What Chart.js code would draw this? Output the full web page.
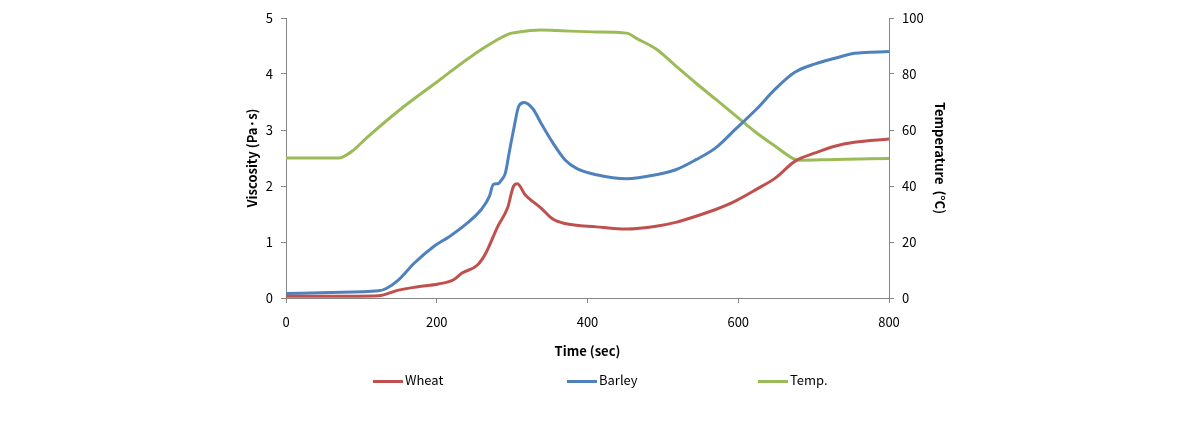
<!DOCTYPE html>
<html>
<head>
<meta charset="utf-8">
<script src="https://cdn.jsdelivr.net/npm/chart.js@4.4.1/dist/chart.umd.min.js"></script>
<style>
  html, body { margin: 0; padding: 0; background: #fff; }
  #wrap { width: 1190px; height: 446px; position: relative; }
  .leg { position: absolute; top: 371px; font: 13px 'Noto Sans CJK KR', 'Noto Sans', sans-serif; color: #000; line-height: 18px; white-space: nowrap; }
  .leg i { display: inline-block; width: 30px; height: 3px; vertical-align: middle; margin-right: 2px; }
</style>
</head>
<body>
<div id="wrap">
  <canvas id="chart" width="1190" height="446"></canvas>
  <div id="legend"></div>
</div>
<script>
// ── Data ───────────────────────────────────────
const xTicks = [0, 200, 400, 600, 800];

const wheatTime = [0, 60, 123, 149, 175, 202, 223, 233, 254, 265, 281, 294, 302, 307, 317, 338, 354, 370, 412, 452, 491, 517, 544, 570, 596, 624, 649, 675, 702, 728, 754, 800];
const wheatVisc = [0.03, 0.03, 0.04, 0.14, 0.20, 0.25, 0.33, 0.44, 0.59, 0.80, 1.28, 1.61, 2.00, 2.04, 1.85, 1.61, 1.41, 1.33, 1.27, 1.23, 1.28, 1.35, 1.46, 1.58, 1.73, 1.94, 2.14, 2.44, 2.59, 2.71, 2.78, 2.84];

const barleyTime = [0, 60, 123, 133, 149, 170, 196, 217, 238, 259, 270, 275, 281, 286, 291, 296, 302, 309, 316, 328, 338, 354, 370, 386, 412, 452, 491, 517, 544, 570, 596, 624, 649, 675, 702, 728, 754, 800];
const barleyVisc = [0.08, 0.10, 0.13, 0.17, 0.32, 0.62, 0.92, 1.10, 1.31, 1.58, 1.82, 2.03, 2.04, 2.11, 2.23, 2.59, 3.01, 3.43, 3.49, 3.37, 3.13, 2.77, 2.47, 2.31, 2.20, 2.13, 2.20, 2.29, 2.47, 2.68, 3.01, 3.37, 3.73, 4.03, 4.18, 4.28, 4.37, 4.40];

const tempTime = [0, 70, 75, 88, 107, 149, 202, 249, 296, 307, 338, 359, 412, 452, 465, 491, 517, 544, 570, 596, 624, 649, 675, 680, 728, 800];
const tempVal  = [50.0, 50.0, 50.3, 52.5, 57.2, 66.8, 77.5, 86.9, 94.3, 94.9, 95.7, 95.5, 95.0, 94.6, 92.7, 88.9, 82.9, 76.7, 71.0, 65.2, 59.0, 54.2, 49.5, 49.2, 49.5, 49.8];

const AXIS = '#868686';
const FONT = "'Noto Sans CJK KR', 'Noto Sans', sans-serif";

function pts(xs, ys) { return xs.map((x, i) => ({ x, y: ys[i] })); }

function lineSet(label, data, color, axis) {
  return {
    label, data, yAxisID: axis,
    borderColor: color, backgroundColor: color,
    borderWidth: 3, pointRadius: 0,
    cubicInterpolationMode: 'monotone', fill: false
  };
}

const chart = new Chart(document.getElementById('chart'), {
  type: 'line',
  data: {
    datasets: [
      lineSet('Wheat',  pts(wheatTime, wheatVisc),   '#C0504D', 'y'),
      lineSet('Barley', pts(barleyTime, barleyVisc), '#4F81BD', 'y'),
      lineSet('Temp.',  pts(tempTime, tempVal),      '#9BBB59', 'y1')
    ]
  },
  options: {
    responsive: false,
    animation: false,
    layout: { padding: { left: 232, right: 240, top: 18, bottom: 78 } },
    plugins: {
      legend: { display: false },
      tooltip: { enabled: false }
    },
    scales: {
      x: {
        type: 'linear', min: 0, max: 800,
        afterBuildTicks: s => { s.ticks = xTicks.map(v => ({ value: v })); },
        ticks: { color: '#000', font: { family: FONT, size: 13 }, padding: 11, maxRotation: 0 },
        grid: { drawOnChartArea: false, drawTicks: true, tickLength: 5, color: AXIS },
        border: { display: true, color: AXIS },
        title: { display: true, text: 'Time (sec)', color: '#000', font: { family: FONT, size: 13, weight: 'bold' }, padding: { top: 4, bottom: 9 } },
        afterFit: s => { s.height = 70; }
      },
      y: {
        position: 'left', min: 0, max: 5,
        ticks: { stepSize: 1, color: '#000', font: { family: FONT, size: 13 }, padding: 8 },
        grid: { drawOnChartArea: false, drawTicks: true, tickLength: 5, color: AXIS },
        border: { display: true, color: AXIS },
        title: { display: true, text: 'Viscosity (Pa·s)', color: '#000', font: { family: FONT, size: 13, weight: 'bold' }, padding: { top: 12, bottom: 4 } },
        afterFit: s => { s.width = 54; }
      },
      y1: {
        position: 'right', min: 0, max: 100,
        ticks: { stepSize: 20, color: '#000', font: { family: FONT, size: 13 }, padding: 8 },
        grid: { drawOnChartArea: false, drawTicks: true, tickLength: 5, color: AXIS },
        border: { display: true, color: AXIS },
        title: { display: true, text: 'Temperature  (°C)', color: '#000', font: { family: FONT, size: 13, weight: 'bold' }, padding: { top: 2, bottom: 4 } },
        afterFit: s => { s.width = 61; }
      }
    }
  }
});

// ── Legend (Excel-style, spread out) ───────────
const legendLeft = [373, 567, 758];
document.getElementById('legend').innerHTML = chart.data.datasets.map((d, i) =>
  `<div class="leg" style="left:${legendLeft[i]}px"><i style="background:${d.borderColor}"></i>${d.label}</div>`
).join('');
</script>
</body>
</html>
